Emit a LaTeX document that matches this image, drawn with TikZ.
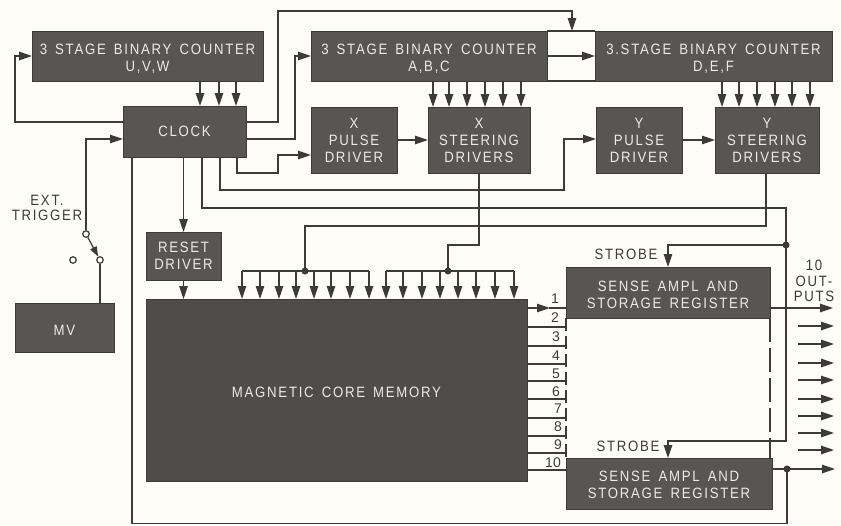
\documentclass[tikz,border=0pt]{standalone}
\usepackage{fontspec}
\setmainfont{Liberation Sans}
\newfontfamily\lbl[LetterSpace=11.5,FakeStretch=0.88,WordSpace=1.5]{Liberation Sans}
\usetikzlibrary{arrows.meta}
\definecolor{paper}{HTML}{FDFCF7}
\definecolor{ink}{HTML}{3C3B39}
\definecolor{blockfill}{HTML}{575654}
\definecolor{memfill}{HTML}{4E4D4B}
\definecolor{blocktext}{HTML}{EDEBE4}
\newcommand{\pad}[1]{\rule{0pt}{#1pt}}
\tikzset{
  dbox/.style={draw=ink,fill=blockfill,text=blocktext,inner sep=0pt,outer sep=0pt,line width=1pt,align=center,
    font=\fontsize{15}{17}\selectfont\lbl},
  wire/.style={draw=ink,line width=1.25pt,line join=miter},
  arr/.style={wire,-{Triangle[length=13pt,width=8.5pt]}},
  dot/.style={circle,fill=ink,inner sep=0pt,minimum size=7pt},
  pin/.style={circle,draw=ink,fill=paper,line width=1.2pt,inner sep=0pt,minimum size=6.5pt},
  tag/.style={text=ink,inner sep=0pt,align=center,font=\fontsize{15}{15.5}\selectfont\lbl},
  num/.style={text=ink,inner sep=0pt,font=\fontsize{14}{15}\selectfont},
}
\begin{document}
\begin{tikzpicture}[x=1pt,y=-1pt]
\path[fill=paper] (0,0) rectangle (841,525);
\useasboundingbox (0,0) rectangle (841,525);
% blocks
\node[dbox,minimum width=231pt,minimum height=50pt] (uvw) at (147.5,56) {\pad{16}3 STAGE BINARY COUNTER\\U,V,W};
\node[dbox,minimum width=236pt,minimum height=50pt] (abc) at (429,56) {\pad{16}3 STAGE BINARY COUNTER\\A,B,C};
\node[dbox,minimum width=237pt,minimum height=50pt] (def) at (713.5,56) {\pad{16}3.STAGE BINARY COUNTER\\D,E,F};
\node[dbox,minimum width=123pt,minimum height=51pt] (clock) at (184.5,131.5) {CLOCK};
\node[dbox,minimum width=86pt,minimum height=66pt] (xp) at (354,140) {X\\PULSE\\DRIVER};
\node[dbox,minimum width=102pt,minimum height=66pt] (xs) at (479,140) {X\\STEERING\\DRIVERS};
\node[dbox,minimum width=86pt,minimum height=66pt] (yp) at (639,140) {Y\\PULSE\\DRIVER};
\node[dbox,minimum width=104pt,minimum height=66pt] (ys) at (767,140) {Y\\STEERING\\DRIVERS};
\node[dbox,minimum width=75pt,minimum height=48pt] (reset) at (183.5,256) {RESET\\DRIVER};
\node[dbox,minimum width=99pt,minimum height=49pt] (mv) at (64.5,327.5) {\pad{15}MV};
\node[dbox,fill=memfill,minimum width=381pt,minimum height=182pt] (mem) at (336.5,390) {\pad{15}MAGNETIC CORE MEMORY};
\node[dbox,minimum width=204pt,minimum height=51pt] (sa1) at (668,292.5) {\pad{16}SENSE AMPL AND\\STORAGE REGISTER};
\node[dbox,minimum width=206pt,minimum height=51pt] (sa2) at (669,483.5) {\pad{14}SENSE AMPL AND\\STORAGE REGISTER};
% links between the two right counters
\draw[wire] (abc.north east) -- (def.north west);
\draw[wire] (abc.south east) -- (def.south west);
\draw[arr] (abc.east) -- (def.west);
% counter to clock
\foreach \x in {200,219,236} \draw[arr] (\x,0 |- uvw.south) -- (\x,0 |- clock.north);
\foreach \x in {433,449,467,485,503,521} \draw[arr] (\x,0 |- abc.south) -- (\x,0 |- xs.north);
\foreach \x in {722,739,757,775,792,810} \draw[arr] (\x,0 |- def.south) -- (\x,0 |- ys.north);
% clock outputs
\draw[arr] (clock.west |- 0,122) -- (15,122) -- (15,56) -- (uvw.west);
\draw[arr] (clock.east |- 0,122) -- (278,122) -- (278,11) -- (572,11) -- (572,0 |- def.north);
\draw[arr] (clock.east |- 0,139) -- (295,139) -- (295,56) -- (abc.west);
\draw[arr] (237,0 |- clock.south) -- (237,173) -- (278,173) -- (278,155) -- (xp.west |- 0,155);
\draw[arr] (220,0 |- clock.south) -- (220,190) -- (564,190) -- (564,139) -- (yp.west |- 0,139);
\draw[arr] (xp.east) -- (xs.west);
\draw[arr] (yp.east) -- (ys.west);
\draw[arr] (clock.south -| reset.north) -- (reset.north);
\draw[arr] (reset.south) -- (reset.south |- mem.north);
% strobes
\coordinate (st) at (786,245);
\node[dot] (stdot) at (st) {};
\draw[wire] (202,0 |- clock.south) -- (202,208) -- (786,208) -- (stdot.center);
\draw[arr] (stdot.center) -- (668,245) -- (668,0 |- sa1.north);
\draw[arr] (stdot.center) -- (786,441) -- (668,441) -- (668,0 |- sa2.north);
% drivers to buses
\node[dot] (b1) at (305,271) {};
\node[dot] (b2) at (448,271) {};
\draw[wire] (766,0 |- ys.south) -- (766,226) -- (305,226) -- (b1.center);
\draw[wire] (479,0 |- xs.south) -- (479,245) -- (448,245) -- (b2.center);
\draw[wire] (242,271) -- (369,271);
\draw[wire] (386,271) -- (514,271);
\foreach \x in {242,260,279,296,314,331,350,369,386,403,422,440,458,476,495,514}
  \draw[arr] (\x,271) -- (\x,0 |- mem.north);
% switch and trigger
\node[pin] (p1) at (86,234) {};
\node[pin] (p2) at (100,260) {};
\node[pin] (p3) at (73,260) {};
\draw[arr] (p1) -- (86,139) -- (clock.west |- 0,139);
\draw[wire,-{Triangle[length=10pt,width=7pt]}] (p1) -- (p2);
\draw[wire] (p2) -- (p2 |- mv.north);
% memory outputs
\draw[arr] (mem.east |- 0,308) -- (550,308);
\draw[wire] (549,308) -- (sa1.west |- 0,308);
\foreach \y in {327,346,364,381,399,418,436,453,470}
  \draw[wire] (mem.east |- 0,\y) -- (566,\y);
\draw[wire,dash pattern=on 13pt off 5pt] (sa1.south west) -- (sa2.north west);
\draw[wire,dash pattern=on 24pt off 6pt] (770,0 |- sa1.south) -- (770,0 |- sa2.north);
\node[num] (n1) at (555,299) {1};
\node[num] (n2) at (555,318) {2};
\node[num] (n3) at (556,337) {3};
\node[num] (n4) at (556,356) {4};
\node[num] (n5) at (556,374) {5};
\node[num] (n6) at (556,392) {6};
\node[num] (n7) at (558,409) {7};
\node[num] (n8) at (558,427) {8};
\node[num] (n9) at (558,445) {9};
\node[num] (n10) at (553,463) {10};
% outputs
\draw[arr] (sa1.east |- 0,308) -- (833,308);
\foreach \y in {326,344,363,380,399,416,433,450}
  \draw[arr] (798,\y) -- (834,\y);
\node[dot] (odot) at (787,469) {};
\draw[arr] (sa2.east |- 0,469) -- (835,469);
% feedback
\draw[wire] (132,0 |- clock.south) -- (132,523.5) -- (787,523.5) -- (odot.center);
% texts
\node[tag] (ext) at (47,207.5) {EXT.\\[-0.5pt]TRIGGER};
\node[tag] (s1) at (626,254.5) {STROBE};
\node[tag] (s2) at (628,446.5) {STROBE};
\node[tag] (ten) at (814,281) {10\\OUT-\\PUTS};
\end{tikzpicture}
\end{document}
